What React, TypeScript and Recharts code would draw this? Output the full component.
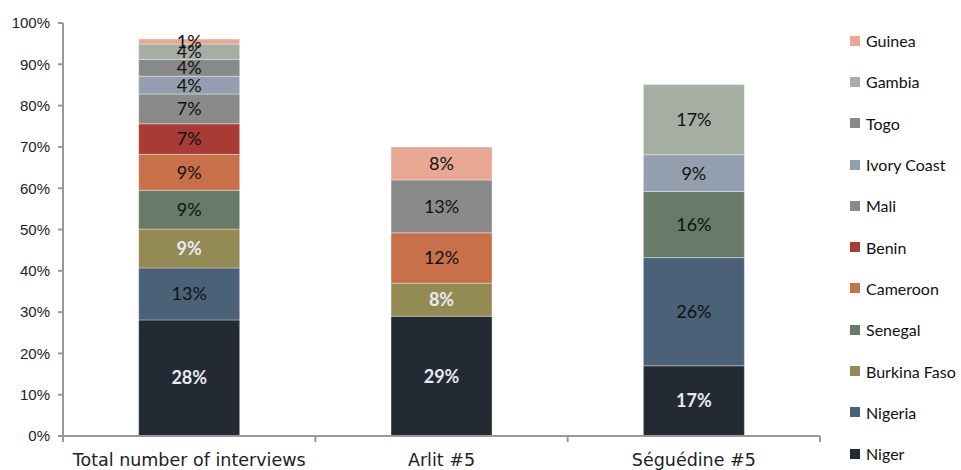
import React from "react";
import { BarChart, Bar, XAxis, YAxis, LabelList } from "recharts";

const categories = ["Total number of interviews", "Arlit #5", "Séguédine #5"];

const niger = [28.1, 29, 17];
const nigeria = [12.6, null, 26.2];
const burkinaFaso = [9.4, 8, null];
const senegal = [9.4, null, 16];
const cameroon = [8.7, 12.2, null];
const benin = [7.4, null, null];
const mali = [7.2, 12.8, null];
const ivoryCoast = [4.3, null, 8.9];
const togo = [4.1, null, null];
const gambia = [3.7, null, 17];
const guinea = [1.2, 8, null];

const yTicks = [0, 10, 20, 30, 40, 50, 60, 70, 80, 90, 100];

const series = [
  { key: "Niger", values: niger, color: "#232a33", light: true },
  { key: "Nigeria", values: nigeria, color: "#4a6177", light: false },
  { key: "Burkina Faso", values: burkinaFaso, color: "#948a54", light: true },
  { key: "Senegal", values: senegal, color: "#687a68", light: false },
  { key: "Cameroon", values: cameroon, color: "#c8704a", light: false },
  { key: "Benin", values: benin, color: "#a73c34", light: false },
  { key: "Mali", values: mali, color: "#8a8a8a", light: false },
  { key: "Ivory Coast", values: ivoryCoast, color: "#939fae", light: false },
  { key: "Togo", values: togo, color: "#898989", light: false },
  { key: "Gambia", values: gambia, color: "#a6aea3", light: false },
  { key: "Guinea", values: guinea, color: "#e8a894", light: false },
];

const data = categories.map((name, i) => {
  const row: Record<string, any> = { name };
  series.forEach((s) => {
    row[s.key] = s.values[i];
  });
  return row;
});

const WIDTH = 961;
const HEIGHT = 470;
const MARGIN = { top: 23, right: 141, bottom: 4, left: 0 };
const HALF_BAND = (WIDTH - 63 - MARGIN.right) / 6;

const XTick = (props: any) => {
  const { x, y, payload, index } = props;
  return (
    <g>
      <line x1={x - HALF_BAND} x2={x - HALF_BAND} y1={y} y2={y + 6} stroke="#999" strokeWidth={2} />
      {index === categories.length - 1 && (
        <line x1={x + HALF_BAND} x2={x + HALF_BAND} y1={y} y2={y + 6} stroke="#999" strokeWidth={2} />
      )}
      <text x={x} y={y + 30} textAnchor="middle" fill="#222" fontSize={17.5} fontFamily="DejaVu Sans, sans-serif">
        {payload.value}
      </text>
    </g>
  );
};

const ChartLegend = () => (
  <div
    style={{
      position: "absolute",
      left: 850,
      top: 20,
      width: 111,
      fontFamily: "Lato, sans-serif",
      fontSize: 16,
      color: "#111",
    }}
  >
    {[...series].reverse().map((s) => (
      <div key={s.key} style={{ height: 41.3, display: "flex", alignItems: "center", whiteSpace: "nowrap" }}>
        <span style={{ width: 10, height: 10, background: s.color, marginRight: 6, display: "inline-block" }} />
        <span>{s.key}</span>
      </div>
    ))}
  </div>
);

export default function App() {
  return (
    <div style={{ position: "absolute", left: 0, top: 0, width: WIDTH, height: HEIGHT, background: "#fff" }}>
      <BarChart width={WIDTH} height={HEIGHT} data={data} margin={MARGIN} barCategoryGap="30%">
        <XAxis
          dataKey="name"
          tickLine={false}
          tickSize={0}
          tickMargin={0}
          height={30}
          tick={<XTick />}
          stroke="#999"
          strokeWidth={2}
          interval={0}
        />
        <YAxis
          width={63}
          domain={[0, 100]}
          ticks={yTicks}
          interval={0}
          tickFormatter={(v) => `${v}%`}
          tickSize={5}
          tickMargin={8}
          stroke="#999"
          strokeWidth={2}
          tick={{ fill: "#222", fontSize: 15, fontFamily: "Liberation Sans, Arial, sans-serif" }}
        />
        {series.map((s) => (
          <Bar
            key={s.key}
            dataKey={s.key}
            stackId="a"
            fill={s.color}
            stroke="#ffffff"
            strokeOpacity={0.35}
            strokeWidth={1}
            isAnimationActive={false}
          >
            <LabelList
              dataKey={s.key}
              position="center"
              formatter={(v: any) => (v == null ? "" : `${Math.round(Number(v))}%`)}
              fill={s.light ? "#e8eaee" : "#111"}
              fontSize={18}
              fontWeight={s.light ? 700 : 400}
              fontFamily="Lato, sans-serif"
            />
          </Bar>
        ))}
      </BarChart>
      <ChartLegend />
    </div>
  );
}
